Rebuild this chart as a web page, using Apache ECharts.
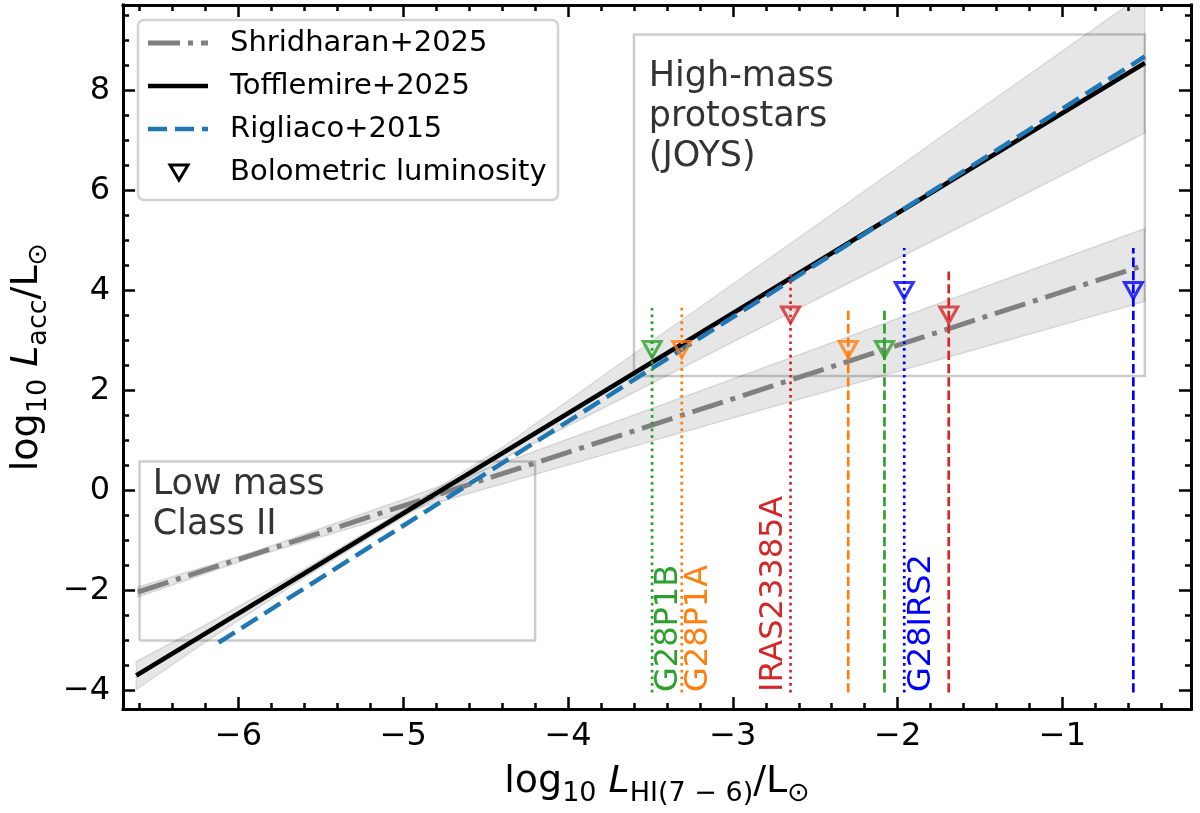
<!DOCTYPE html>
<html>
<head>
<meta charset="utf-8">
<script src="https://cdn.jsdelivr.net/npm/echarts@6/dist/echarts.min.js"></script>
<style>
  html, body { margin: 0; padding: 0; background: #fff; }
  #chart { width: 1200px; height: 813px; }
</style>
</head>
<body>
<div id="chart"></div>
<script>
// axis ranges and tick labels
const xRange = [-6.70, -0.22]
const yRange = [-4.37, 9.71]
const xTicks = [-6, -5, -4, -3, -2, -1]
const yTicks = [-4, -2, 0, 2, 4, 6, 8]

// fitted relations, end points
const shriX = [-6.61, -0.5]
const shriY = [-2.03, 4.51]
const toffX = [-6.62, -0.5]
const toffY = [-3.70, 8.55]
const rigX = [-6.12, -0.5]
const rigY = [-3.04, 8.68]

// uncertainty bands
const toffBandX = [-6.62, -6.2, -5.6, -5.0, -4.4, -3.5, -2.5, -1.5, -0.5]
const toffBandLo = [-3.98, -3.03, -1.74, -0.53, 0.62, 2.13, 3.81, 5.47, 7.15]
const toffBandHi = [-3.42, -2.69, -1.58, -0.39, 0.86, 2.97, 5.29, 7.63, 9.95]
const shriBandX = [-6.61, -5.9, -5.0, -4.0, -3.0, -2.0, -0.5]
const shriBandLo = [-2.13, -1.32, -0.44, 0.51, 1.45, 2.38, 3.78]
const shriBandHi = [-1.93, -1.22, -0.18, 1.03, 2.23, 3.44, 5.24]

// regions
const lowBoxX = [-6.6, -4.2]
const lowBoxY = [-3.0, 0.58]
const highBoxX = [-3.6, -0.5]
const highBoxY = [2.29, 9.12]

// sources: HI line position, bolometric luminosity, top of line
const srcX = [-3.49, -3.31, -2.65, -2.30, -2.08, -1.96, -1.69, -0.57]
const srcLbol = [2.82, 2.82, 3.51, 2.82, 2.82, 4.00, 3.51, 4.00]
const srcTop = [3.65, 3.65, 4.38, 3.65, 3.65, 4.85, 4.38, 4.85]
const srcColor = ['#2ca02c', '#ff7f0e', '#d62728', '#ff7f0e', '#2ca02c', '#0000ff', '#d62728', '#0000ff']
const srcDash = ['dotted', 'dotted', 'dotted', 'dashed', 'dashed', 'dotted', 'dashed', 'dashed']
const lineBottom = -4.04

const labelNames = ['G28P1B', 'G28P1A', 'IRAS23385A', 'G28IRS2']
const labelX = [-3.49, -3.31, -2.65, -1.96]
const labelSide = [1, 1, -1, 1]
const labelColor = ['#2ca02c', '#ff7f0e', '#d62728', '#0000ff']
const labelBase = -4.03

const notes = ['High-mass\nprotostars\n(JOYS)', 'Low mass\nClass II']
const noteX = [-3.51, -6.52]
const noteY = [8.68, 0.51]

const FONT = 'DejaVu Sans'

const xMinor = []
for (let v = -6.6; v < -0.3; v += 0.2) xMinor.push(+v.toFixed(1))
const yMinor = []
for (let v = -4; v <= 9.5; v += 0.5) yMinor.push(v)

const minus = v => String(v).replace('-', '\u2212')

const rich = {
  n: { fontFamily: FONT, fontSize: 38, lineHeight: 50, color: '#000' },
  i: { fontFamily: FONT, fontSize: 38, lineHeight: 50, fontStyle: 'italic', color: '#000' },
  s: { fontFamily: FONT, fontSize: 27, lineHeight: 28, verticalAlign: 'bottom', color: '#000' }
}

function makeAxis(dim, pos, ticks, len, main, extra) {
  const range = dim === 'x' ? xRange : yRange
  return Object.assign({
    type: 'value',
    position: pos,
    min: range[0],
    max: range[1],
    z: 10,
    splitLine: { show: false },
    axisLine: { show: main, onZero: false, lineStyle: { color: '#000', width: 3, cap: 'square' } },
    axisTick: { show: true, inside: true, length: len, customValues: ticks, lineStyle: { color: '#000', width: 2.5 } },
    axisLabel: { show: false, customValues: ticks }
  }, extra)
}

const tickLabel = {
  show: true, formatter: minus,
  fontFamily: FONT, fontSize: 32, color: '#000', margin: 13
}

const xAxes = [
  makeAxis('x', 'bottom', xTicks, 12, true, {
    axisLabel: Object.assign({}, tickLabel, { customValues: xTicks, margin: 12 }),
    name: '{n|log}{s|10}{n| }{i|L}{s|HI(7 \u2212 6)}{n|/L}{s|\u2299}',
    nameLocation: 'middle',
    nameGap: 48,
    nameTextStyle: { rich: rich }
  }),
  makeAxis('x', 'bottom', xMinor, 6, false),
  makeAxis('x', 'top', xTicks, 12, true),
  makeAxis('x', 'top', xMinor, 6, false)
]
const yAxes = [
  makeAxis('y', 'left', yTicks, 12, true, {
    axisLabel: Object.assign({}, tickLabel, { customValues: yTicks }),
    name: '{n|log}{s|10}{n| }{i|L}{s|acc}{n|/L}{s|\u2299}',
    nameLocation: 'middle',
    nameRotate: 90,
    nameGap: 51,
    nameTextStyle: { rich: rich }
  }),
  makeAxis('y', 'left', yMinor, 6, false),
  makeAxis('y', 'right', yTicks, 12, true),
  makeAxis('y', 'right', yMinor, 6, false)
]

function band(bx, lo, hi) {
  return {
    type: 'custom', clip: true, silent: true, z: 1,
    data: [[bx[0], lo[0]]],
    renderItem(params, api) {
      const top = bx.map((x, i) => api.coord([x, hi[i]]))
      const bot = bx.map((x, i) => api.coord([x, lo[i]])).reverse()
      return {
        type: 'polygon',
        shape: { points: top.concat(bot) },
        style: { fill: 'rgba(128,128,128,0.2)', stroke: 'rgba(128,128,128,0.22)', lineWidth: 1.5 }
      }
    }
  }
}

function box(bx, by) {
  return {
    type: 'line', silent: true, symbol: 'none', z: 2,
    data: [[bx[0], by[0]], [bx[1], by[0]], [bx[1], by[1]], [bx[0], by[1]], [bx[0], by[0]]],
    lineStyle: { color: 'rgba(0,0,0,0.2)', width: 2.5, join: 'miter' }
  }
}

function fit(xs, ys, color, width, type, z) {
  return {
    type: 'line', silent: true, symbol: 'none', z: z,
    data: xs.map((x, i) => [x, ys[i]]),
    lineStyle: { color: color, width: width, type: type, cap: 'butt' }
  }
}

const series = [
  band(toffBandX, toffBandLo, toffBandHi),
  band(shriBandX, shriBandLo, shriBandHi),
  box(lowBoxX, lowBoxY),
  box(highBoxX, highBoxY),
  fit(shriX, shriY, '#808080', 5, [32, 8, 5, 8], 3),
  fit(toffX, toffY, '#000000', 4.5, 'solid', 3),
  fit(rigX, rigY, '#1f77b4', 4.5, [19, 8], 4),
  {
    // vertical lines for each HI measurement
    type: 'custom', clip: true, silent: true, z: 5,
    data: srcX.map((x, i) => [x, srcTop[i]]),
    renderItem(params, api) {
      const i = params.dataIndex
      const p0 = api.coord([api.value(0), lineBottom])
      const p1 = api.coord([api.value(0), api.value(1)])
      return {
        type: 'line',
        shape: { x1: p0[0], y1: p0[1], x2: p1[0], y2: p1[1] },
        style: {
          stroke: srcColor[i], lineWidth: 2.7,
          lineDash: srcDash[i] === 'dotted' ? [2.7, 4] : [9.3, 4]
        }
      }
    }
  },
  {
    type: 'scatter', silent: true, z: 6,
    symbol: 'triangle', symbolRotate: 180, symbolSize: [18, 16],
    data: srcX.map((x, i) => ({
      value: [x, srcLbol[i]],
      itemStyle: { color: 'rgba(0,0,0,0)', borderColor: srcColor[i], borderWidth: 3 }
    }))
  },
  {
    // source names, rotated
    type: 'custom', silent: true, z: 7,
    data: labelX.map(x => [x, labelBase]),
    renderItem(params, api) {
      const i = params.dataIndex
      const p = api.coord([api.value(0), api.value(1)])
      return {
        type: 'text', x: p[0] + labelSide[i] * 17, y: p[1], rotation: Math.PI / 2,
        style: {
          text: labelNames[i], fill: labelColor[i],
          font: '32px "DejaVu Sans"', align: 'left', verticalAlign: 'middle'
        }
      }
    }
  },
  {
    type: 'custom', silent: true, z: 7,
    data: noteX.map((x, i) => [x, noteY[i]]),
    renderItem(params, api) {
      const i = params.dataIndex
      const p = api.coord([api.value(0), api.value(1)])
      return {
        type: 'text', x: p[0], y: p[1],
        style: {
          text: notes[i], fill: '#333333', font: '35px "DejaVu Sans"',
          lineHeight: 40, align: 'left', verticalAlign: 'top'
        }
      }
    }
  }
]

// legend drawn as graphic, in pixels
const legendRows = [43, 86, 129, 172]
const legendText = ['Shridharan+2025', 'Tofflemire+2025', 'Rigliaco+2015', 'Bolometric luminosity']
const graphic = [
  {
    type: 'rect', z: 100, shape: { x: 138, y: 20, width: 420, height: 180, r: 6 },
    style: { fill: 'rgba(255,255,255,0.85)', stroke: '#d4d4d4', lineWidth: 2.5 }
  },
  {
    type: 'line', z: 101, shape: { x1: 148, y1: legendRows[0], x2: 208, y2: legendRows[0] },
    style: { stroke: '#808080', lineWidth: 5, lineDash: [32, 8, 5, 8] }
  },
  {
    type: 'line', z: 101, shape: { x1: 148, y1: legendRows[1], x2: 208, y2: legendRows[1] },
    style: { stroke: '#000', lineWidth: 4.5 }
  },
  {
    type: 'line', z: 101, shape: { x1: 148, y1: legendRows[2], x2: 208, y2: legendRows[2] },
    style: { stroke: '#1f77b4', lineWidth: 4.5, lineDash: [19, 8] }
  },
  {
    type: 'polygon', z: 101,
    shape: { points: [[170, legendRows[3] - 7], [188, legendRows[3] - 7], [179, legendRows[3] + 8]] },
    style: { fill: 'none', stroke: '#000', lineWidth: 3 }
  }
].concat(legendText.map((t, i) => ({
  type: 'text', z: 101, x: 230, y: legendRows[i],
  style: { text: t, font: '29px "DejaVu Sans"', fill: '#000', verticalAlign: 'middle', align: 'left' }
})))

const chart = echarts.init(document.getElementById('chart'))
chart.setOption({
  animation: false,
  backgroundColor: '#fff',
  grid: { left: 123, top: 5, right: 9, bottom: 104, containLabel: false },
  xAxis: xAxes,
  yAxis: yAxes,
  series: series,
  graphic: graphic
})
</script>
</body>
</html>
